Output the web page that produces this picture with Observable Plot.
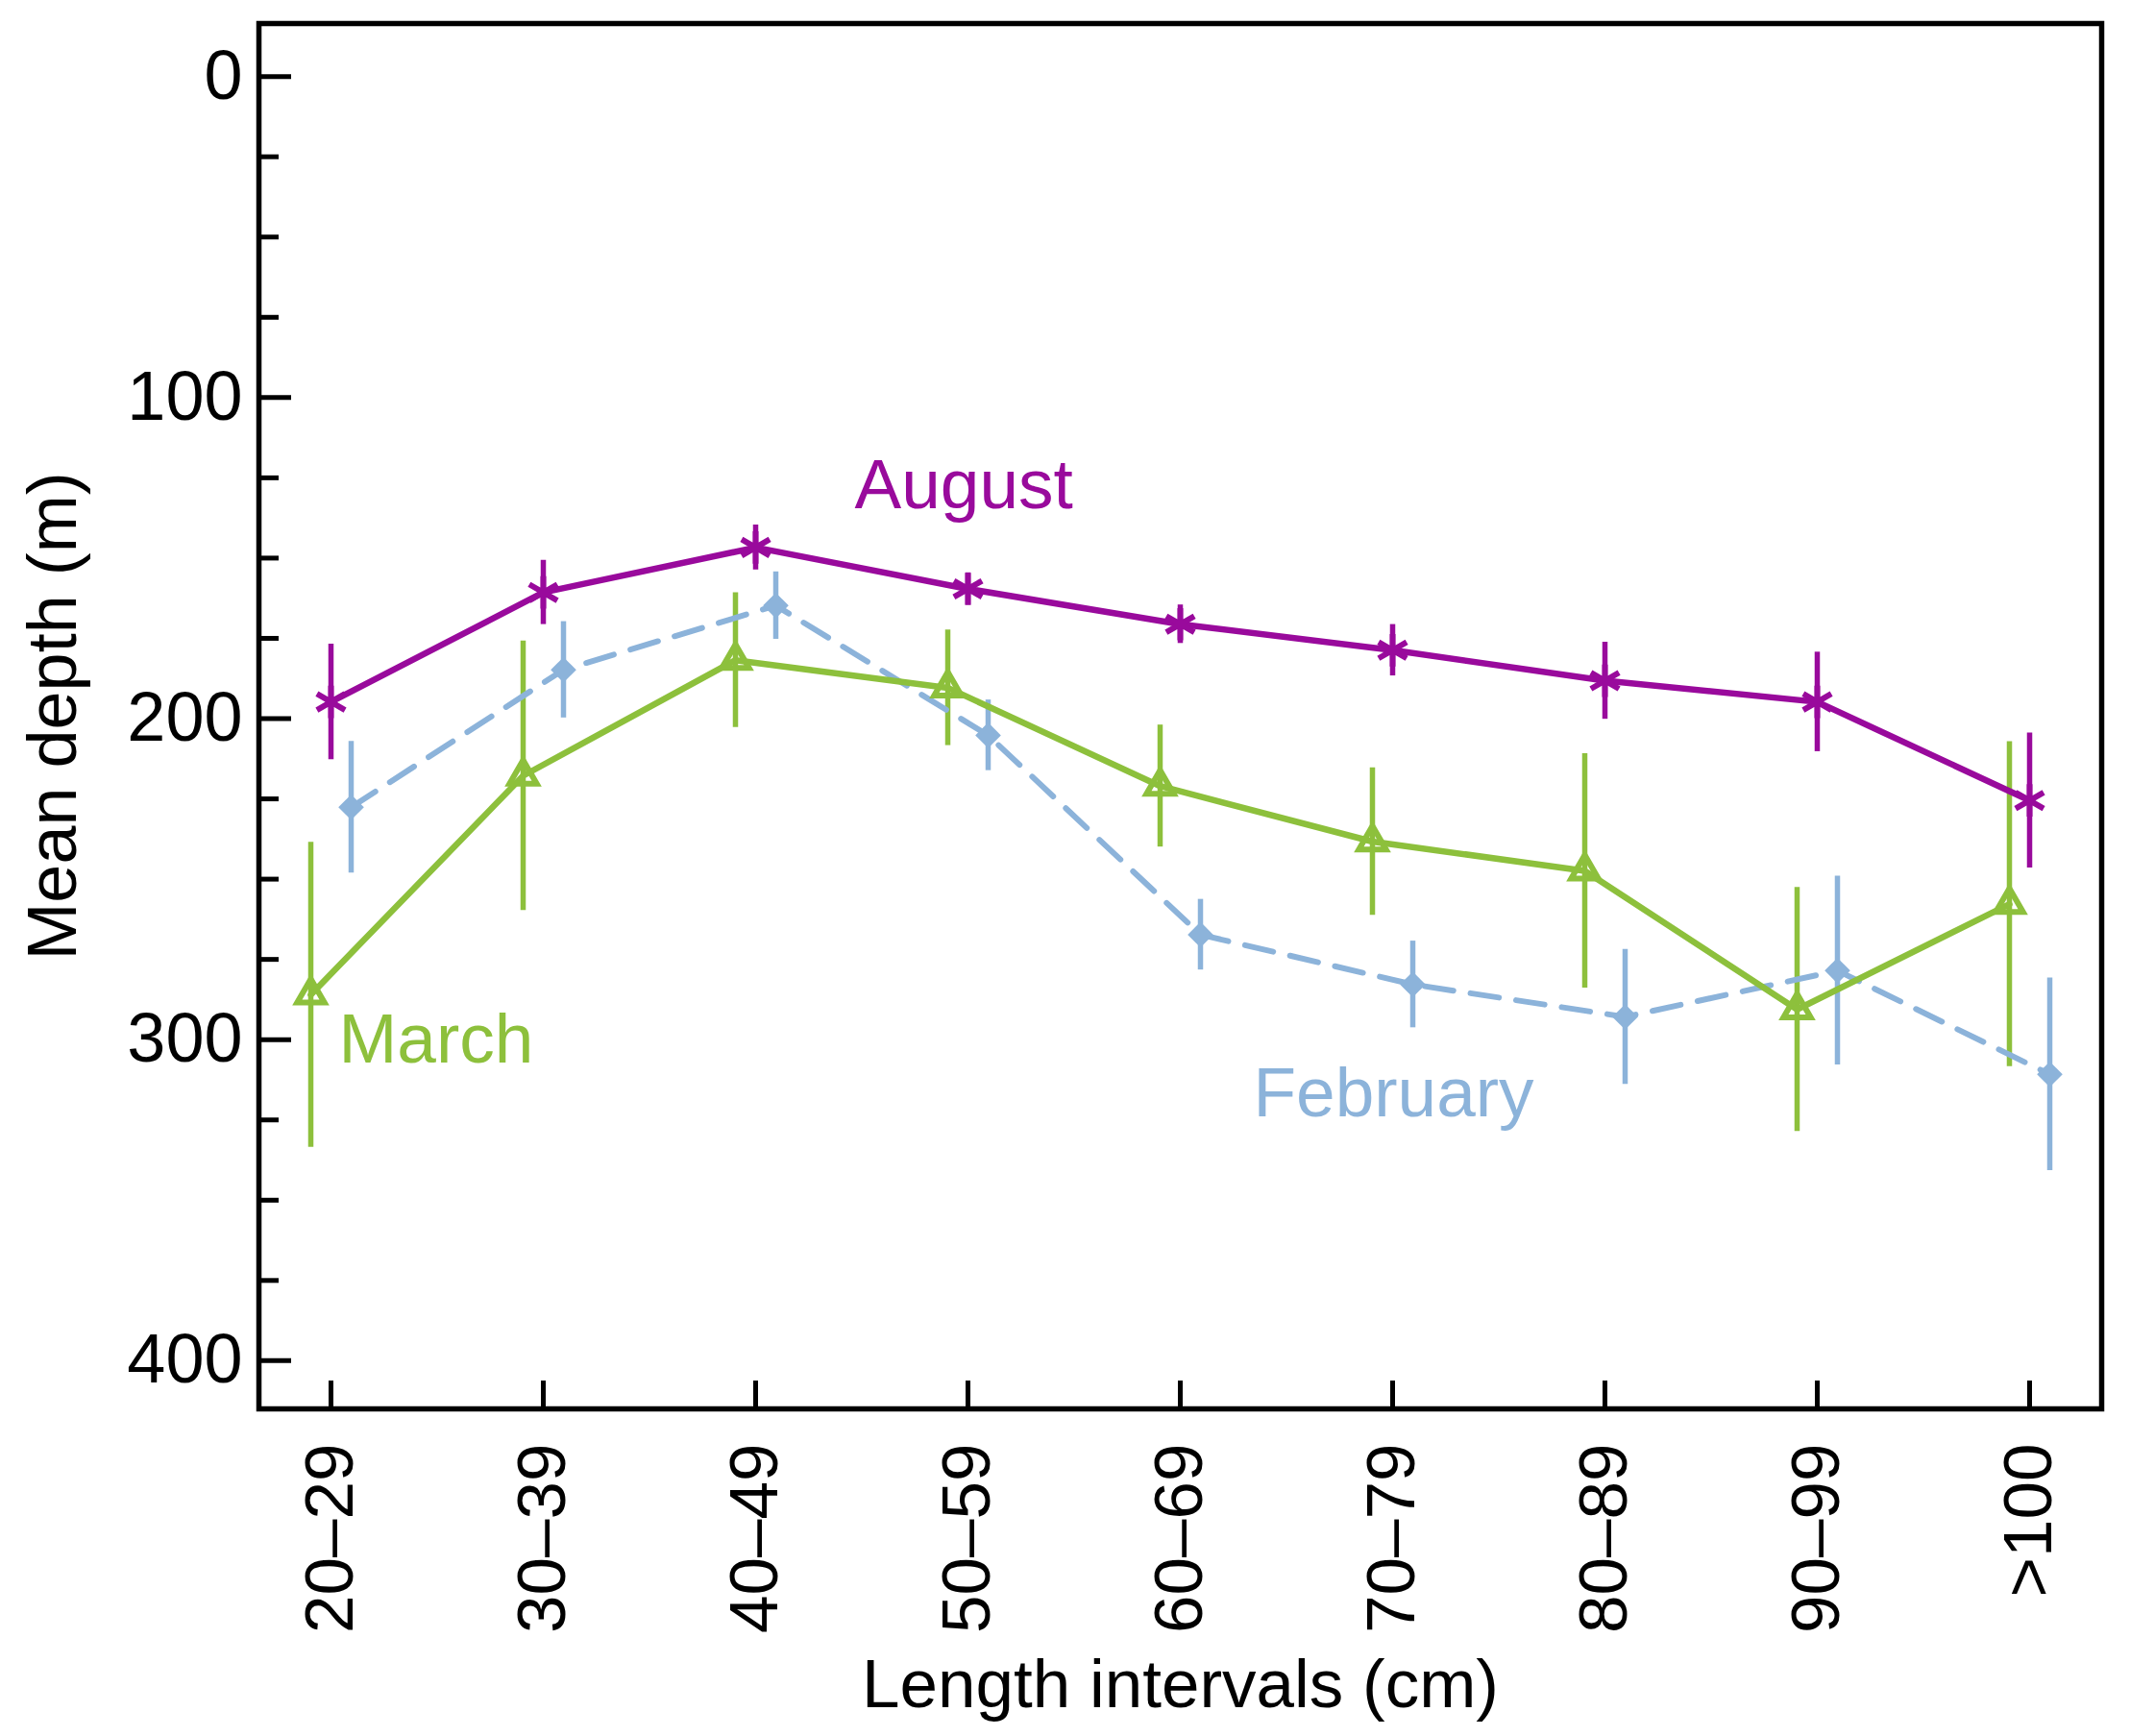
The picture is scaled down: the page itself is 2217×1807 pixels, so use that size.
<!DOCTYPE html>
<html>
<head>
<meta charset="utf-8">
<script src="https://cdn.jsdelivr.net/npm/d3@7"></script>
<script src="https://cdn.jsdelivr.net/npm/@observablehq/plot@0.6"></script>
<style>
  html, body { margin: 0; padding: 0; background: #fff; }
  svg { font-family: "Liberation Sans", Arial, sans-serif; }
</style>
</head>
<body>
<div id="chart"></div>
<script>
const categories = ["20–29", "30–39", "40–49", "50–59", "60–69", "70–79", "80–89", "90–99", ">100"];

const august    = [194.8, 160.7, 146.7, 159.6, 170.6, 178.7, 188.2, 194.8, 225.5];
const augustErr = [18, 10, 7, 5, 6, 8, 12, 15.5, 21];

const march     = [286, 217.8, 181.8, 190.4, 221, 238.3, 247.4, 290.6, 257.8];
const marchErr  = [47.5, 42, 21, 18, 19, 23, 36.5, 38, 50.6];

const february  = [227.6, 184.8, 164.8, 205.2, 267.3, 282.8, 292.9, 278.5, 310.8];
const febErr    = [20.5, 15, 10.5, 11, 11, 13.5, 21, 29.4, 30];

const yMajorTicks = [0, 100, 200, 300, 400];
const yMinorTicks = [25, 50, 75, 125, 150, 175, 225, 250, 275, 325, 350, 375];

// series label annotations
const labelNames = ["August", "March", "February"];
const labelCats  = ["40–49", "20–29", "60–69"];
const labelVals  = [127.5, 300, 317];

const colors = {August: "#990a9c", March: "#8dc03c", February: "#8cb3da"};

function rows(name, vals, errs) {
  return categories.map((c, i) => ({series: name, cat: c, v: vals[i], lo: vals[i] - errs[i], hi: vals[i] + errs[i]}));
}
const augRows = rows("August", august, augustErr);
const marRows = rows("March", march, marchErr);
const febRows = rows("February", february, febErr);
const labels = labelNames.map((n, i) => ({name: n, cat: labelCats[i], v: labelVals[i]}));
const labelDx = {August: 103, March: 8, February: 76};

const chart = Plot.plot({
  width: 2217,
  height: 1807,
  marginLeft: 269,
  marginRight: 30,
  marginTop: 24,
  marginBottom: 341,
  style: {fontFamily: "Liberation Sans, Arial, sans-serif", background: "#fff"},
  x: {type: "point", domain: categories, padding: 0.335},
  y: {domain: [-16.5, 415], reverse: true},
  marks: [
    // error bars
    Plot.ruleX(febRows, {x: "cat", y1: "lo", y2: "hi", stroke: colors.February, strokeWidth: 5.5, dx: 21}),
    Plot.ruleX(marRows, {x: "cat", y1: "lo", y2: "hi", stroke: colors.March, strokeWidth: 5.5, dx: -21}),
    Plot.ruleX(augRows, {x: "cat", y1: "lo", y2: "hi", stroke: colors.August, strokeWidth: 5.5}),
    // lines
    Plot.line(febRows, {x: "cat", y: "v", stroke: colors.February, strokeWidth: 6, strokeDasharray: "30,18", dx: 21}),
    Plot.line(marRows, {x: "cat", y: "v", stroke: colors.March, strokeWidth: 6.5, dx: -21}),
    Plot.line(augRows, {x: "cat", y: "v", stroke: colors.August, strokeWidth: 6.5}),
    // markers
    Plot.dot(febRows, {x: "cat", y: "v", symbol: "diamond2", r: 12, fill: colors.February, stroke: "none", dx: 21}),
    Plot.dot(marRows, {x: "cat", y: "v", symbol: "triangle", r: 10.5, fill: "none", stroke: colors.March, strokeWidth: 6, dx: -21}),
    Plot.dot(augRows, {x: "cat", y: "v", symbol: "asterisk", r: 16, stroke: colors.August, strokeWidth: 6}),
    // series labels
    ...labelNames.map(n => Plot.text(labels.filter(d => d.name === n), {
      x: "cat", y: "v", text: "name", fill: colors[n], fontSize: 73,
      textAnchor: "start", lineAnchor: "middle", dx: labelDx[n]})),
    // axes
    Plot.axisY(yMinorTicks, {tickSize: -21, text: null, label: null, strokeWidth: 5}),
    Plot.axisY(yMajorTicks, {tickSize: -34, tickPadding: 51, fontSize: 72, fill: "black", strokeWidth: 5,
      label: "Mean depth (m)", labelAnchor: "center", labelArrow: "none", labelOffset: 242}),
    Plot.axisX({tickSize: -29, tickPadding: 65, tickRotate: -90, fontSize: 71, fill: "black", strokeWidth: 5,
      label: "Length intervals (cm)", labelAnchor: "center", labelArrow: "none", labelOffset: 310}),
    Plot.frame({stroke: "black", strokeWidth: 5.5})
  ]
});
document.getElementById("chart").appendChild(chart);
</script>
</body>
</html>
